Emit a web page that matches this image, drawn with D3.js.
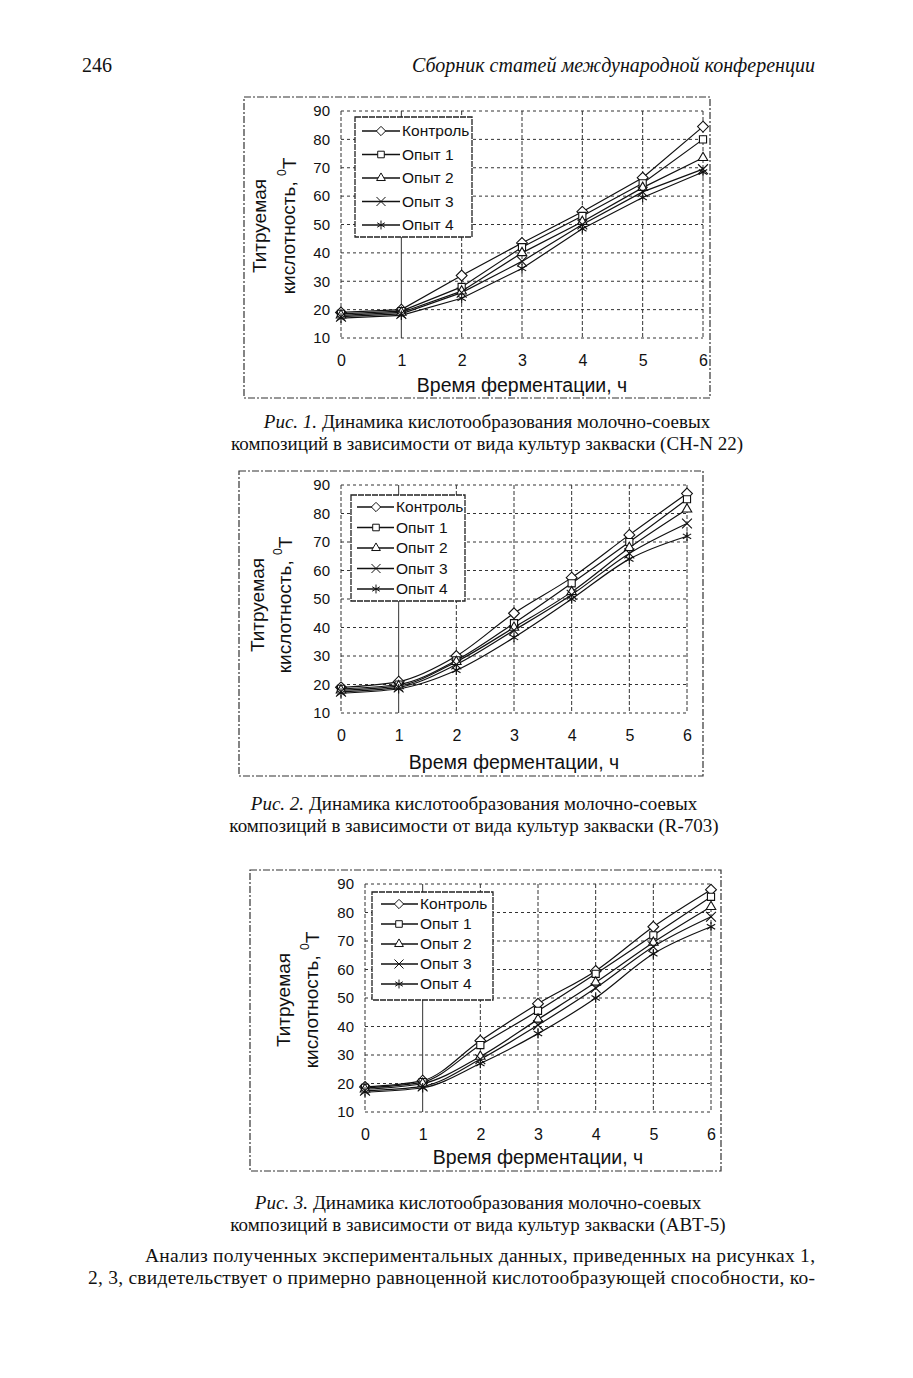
<!DOCTYPE html>
<html><head><meta charset="utf-8">
<script src="https://cdn.jsdelivr.net/npm/d3@7"></script>
<style>
html,body{margin:0;padding:0;background:#fff;}
svg{display:block;}
</style></head>
<body>
<script>
// ---------- DATA ----------
const hours = [0, 1, 2, 3, 4, 5, 6];
const seriesNames = ["Контроль", "Опыт 1", "Опыт 2", "Опыт 3", "Опыт 4"];
const yTicks = [10, 20, 30, 40, 50, 60, 70, 80, 90];
const xTicks = [0, 1, 2, 3, 4, 5, 6];

// Рис. 1 (CH-N 22)
const fig1Control = [19, 20, 32, 43.5, 54.5, 66.5, 84.5];
const fig1Exp1 = [18.5, 19.5, 28, 42, 53, 64.5, 80];
const fig1Exp2 = [18, 19, 26.5, 40, 51, 63, 73.5];
const fig1Exp3 = [17.5, 18.5, 26, 37, 50, 61.5, 69.5];
const fig1Exp4 = [17, 18, 24, 34.5, 48.5, 59.5, 68.5];

// Рис. 2 (R-703)
const fig2Control = [19, 21, 30, 45, 57.5, 72.5, 87];
const fig2Exp1 = [18.5, 20, 28.5, 41.5, 55.5, 70, 85];
const fig2Exp2 = [18, 19.5, 28, 40, 52.5, 68, 81.5];
const fig2Exp3 = [17.5, 19, 27, 39, 51.5, 66, 76.5];
const fig2Exp4 = [17, 18.5, 25, 36.5, 50, 64, 72];

// Рис. 3 (АВТ-5)
const fig3Control = [18.8, 21, 35, 48, 59.5, 75, 88];
const fig3Exp1 = [18.5, 20.5, 33.5, 45.5, 58.5, 72, 85.5];
const fig3Exp2 = [18, 20, 29.5, 42.5, 55.5, 69.5, 82];
const fig3Exp3 = [17.5, 19, 28.5, 40.5, 53.5, 68, 78.5];
const fig3Exp4 = [17, 18.5, 27, 37.5, 50, 65.5, 75];

const xTitle = "Время ферментации, ч";
const yTitle1 = "Титруемая";
const yTitle2 = "кислотность, ";

const headerPage = "246";
const headerTitle = "Сборник статей международной конференции";
const captions = [
  ["Динамика кислотообразования молочно-соевых", "композиций в зависимости от вида культур закваски (CH-N 22)"],
  ["Динамика кислотообразования молочно-соевых", "композиций в зависимости от вида культур закваски (R-703)"],
  ["Динамика кислотообразования молочно-соевых", "композиций в зависимости от вида культур закваски (АВТ-5)"]
];
const bodyLines = [
  "Анализ полученных экспериментальных данных, приведенных на рисунках 1,",
  "2, 3, свидетельствует о примерно равноценной кислотообразующей способности, ко-"
];

// ---------- DRAW ----------
const W = 913, H = 1378;
const svg = d3.select("body").append("svg").attr("width", W).attr("height", H);
svg.append("rect").attr("width", W).attr("height", H).attr("fill", "#fff");

const ink = "#111";
const sans = "Liberation Sans, Arial, sans-serif";
const serif = "Liberation Serif, Times New Roman, serif";

const symbols = [d3.symbolDiamond2, d3.symbolSquare2, d3.symbolTriangle2, d3.symbolX, d3.symbolAsterisk];

// header
svg.append("text").attr("x", 82).attr("y", 72).attr("font-family", serif).attr("font-size", 20).attr("fill", ink).text(headerPage);
svg.append("text").attr("x", 815).attr("y", 72).attr("text-anchor", "end").attr("font-family", serif)
  .attr("font-style", "italic").attr("font-size", 20).attr("fill", ink).text(headerTitle);

function drawChart(cfg, data, fig) {
  const g = svg.append("g");
  const x = d3.scaleLinear().domain([0, 6]).range([cfg.plot.l, cfg.plot.r]);
  const y = d3.scaleLinear().domain([10, 90]).range([cfg.plot.b, cfg.plot.t]);

  // outer frame
  g.append("rect").attr("x", cfg.frame.x0).attr("y", cfg.frame.y0)
    .attr("width", cfg.frame.x1 - cfg.frame.x0).attr("height", cfg.frame.y1 - cfg.frame.y0)
    .attr("fill", "none").attr("stroke", "#333").attr("stroke-width", 1.2).attr("stroke-dasharray", "7,2,2,2");

  // gridlines
  g.append("g").selectAll("line").data(yTicks).join("line")
    .attr("x1", cfg.plot.l).attr("x2", cfg.plot.r)
    .attr("y1", d => y(d)).attr("y2", d => y(d))
    .attr("stroke", "#333").attr("stroke-width", 1).attr("stroke-dasharray", "3,3");
  g.append("g").selectAll("line").data(xTicks).join("line")
    .attr("x1", d => x(d)).attr("x2", d => x(d))
    .attr("y1", cfg.plot.t).attr("y2", cfg.plot.b)
    .attr("stroke", "#333").attr("stroke-width", 1)
    .attr("stroke-dasharray", d => (d === 1 ? null : "4,2"));

  // tick labels via d3 axes (no lines)
  const yAxis = g.append("g").attr("transform", `translate(${cfg.plot.l - 4},0)`)
    .call(d3.axisLeft(y).tickValues(yTicks).tickFormat(d3.format("d")).tickSize(0).tickPadding(7));
  yAxis.select(".domain").remove();
  yAxis.selectAll("text").attr("font-family", sans).attr("font-size", 15).attr("fill", ink);

  const xAxis = g.append("g").attr("transform", `translate(0,${cfg.plot.b})`)
    .call(d3.axisBottom(x).tickValues(xTicks).tickFormat(d3.format("d")).tickSize(0).tickPadding(cfg.xLabPad));
  xAxis.select(".domain").remove();
  xAxis.selectAll("text").attr("font-family", sans).attr("font-size", 16).attr("fill", ink);

  // axis titles
  g.append("text").attr("x", (cfg.plot.l + cfg.plot.r) / 2).attr("y", cfg.xTitleY)
    .attr("text-anchor", "middle").attr("font-family", sans).attr("font-size", 19.5).attr("fill", ink).text(xTitle);
  g.append("text").attr("transform", `translate(${cfg.yT1X},${cfg.yTY}) rotate(-90)`)
    .attr("text-anchor", "middle").attr("dy", "0.35em").attr("font-family", sans).attr("font-size", 19).attr("fill", ink).text(yTitle1);
  const t2 = g.append("text").attr("transform", `translate(${cfg.yT2X},${cfg.yTY}) rotate(-90)`)
    .attr("text-anchor", "middle").attr("dy", "0.35em").attr("font-family", sans).attr("font-size", 19).attr("fill", ink);
  t2.append("tspan").text(yTitle2);
  t2.append("tspan").attr("font-size", 12).attr("dy", "-0.75em").text("0");
  t2.append("tspan").attr("dy", "0.55em").text("Т");

  // series
  const line = d3.line().x((d, i) => x(hours[i])).y(d => y(d)).curve(cfg.curve);
  data.forEach((vals) => {
    g.append("path").attr("d", line(vals)).attr("fill", "none").attr("stroke", ink).attr("stroke-width", 1.2);
  });
  data.forEach((vals, si) => {
    const sym = d3.symbol().type(symbols[si]).size(si === 0 ? 75 : 65);
    g.append("g").selectAll("path").data(vals).join("path")
      .attr("transform", (d, i) => `translate(${x(hours[i])},${y(d)})`)
      .attr("d", sym()).attr("fill", si < 3 ? "#fff" : "none").attr("stroke", ink).attr("stroke-width", 1.1);
  });

  // legend
  const L = cfg.legend;
  g.append("rect").attr("x", L.x).attr("y", L.y).attr("width", L.w).attr("height", L.h)
    .attr("fill", "#fff").attr("stroke", "#222").attr("stroke-width", 1.3).attr("stroke-dasharray", "6,1");
  seriesNames.forEach((name, si) => {
    const ry = L.row0 + si * L.dy;
    g.append("line").attr("x1", L.l0).attr("x2", L.l1).attr("y1", ry).attr("y2", ry).attr("stroke", ink).attr("stroke-width", 1.3);
    g.append("path").attr("transform", `translate(${L.mx},${ry})`)
      .attr("d", d3.symbol().type(symbols[si]).size(55)()).attr("fill", "#fff").attr("stroke", ink).attr("stroke-width", 1);
    g.append("text").attr("x", L.tx).attr("y", ry).attr("dy", "0.35em").attr("font-family", sans)
      .attr("font-size", L.fs).attr("fill", ink).text(name);
  });

  // caption
  const cap = captions[fig - 1];
  const c1 = svg.append("text").attr("x", cfg.capX).attr("y", cfg.capY).attr("text-anchor", "middle")
    .attr("font-family", serif).attr("font-size", 19).attr("fill", ink);
  c1.append("tspan").attr("font-style", "italic").text(`Рис. ${fig}.`);
  c1.append("tspan").text(" " + cap[0]);
  svg.append("text").attr("x", cfg.capX).attr("y", cfg.capY + 22).attr("text-anchor", "middle")
    .attr("font-family", serif).attr("font-size", 19).attr("fill", ink).text(cap[1]);
}

const cfg1 = {
  frame: {x0: 244, y0: 97, x1: 710, y1: 398},
  plot: {l: 341, r: 703, t: 111, b: 338},
  xLabPad: 17, xTitleY: 392, yT1X: 259, yT2X: 288, yTY: 226,
  curve: d3.curveLinear,
  legend: {x: 355, y: 117, w: 117, h: 120, row0: 131, dy: 23.5, l0: 362, l1: 400, mx: 381, tx: 402, fs: 15.5},
  capX: 487, capY: 428
};
const cfg2 = {
  frame: {x0: 239, y0: 471, x1: 703, y1: 776},
  plot: {l: 341, r: 687, t: 485, b: 713},
  xLabPad: 17, xTitleY: 769, yT1X: 257, yT2X: 284, yTY: 605,
  curve: d3.curveMonotoneX,
  legend: {x: 351, y: 495, w: 114, h: 106, row0: 507, dy: 20.5, l0: 357, l1: 394, mx: 376, tx: 396, fs: 15.5},
  capX: 474, capY: 810
};
const cfg3 = {
  frame: {x0: 250, y0: 870, x1: 721, y1: 1171},
  plot: {l: 365, r: 711, t: 884, b: 1112},
  xLabPad: 17, xTitleY: 1164, yT1X: 283, yT2X: 311, yTY: 1000,
  curve: d3.curveMonotoneX,
  legend: {x: 372, y: 892, w: 121, h: 108, row0: 904, dy: 20, l0: 381, l1: 418, mx: 399, tx: 420, fs: 15.5},
  capX: 478, capY: 1209
};

drawChart(cfg1, [fig1Control, fig1Exp1, fig1Exp2, fig1Exp3, fig1Exp4], 1);
drawChart(cfg2, [fig2Control, fig2Exp1, fig2Exp2, fig2Exp3, fig2Exp4], 2);
drawChart(cfg3, [fig3Control, fig3Exp1, fig3Exp2, fig3Exp3, fig3Exp4], 3);

// body text (justified)
svg.append("text").attr("x", 145).attr("y", 1262).attr("font-family", serif).attr("font-size", 19.5).attr("fill", ink)
  .attr("textLength", 670).attr("lengthAdjust", "spacing").text(bodyLines[0]);
svg.append("text").attr("x", 88).attr("y", 1284).attr("font-family", serif).attr("font-size", 19.5).attr("fill", ink)
  .attr("textLength", 727).attr("lengthAdjust", "spacing").text(bodyLines[1]);
</script>
</body></html>
